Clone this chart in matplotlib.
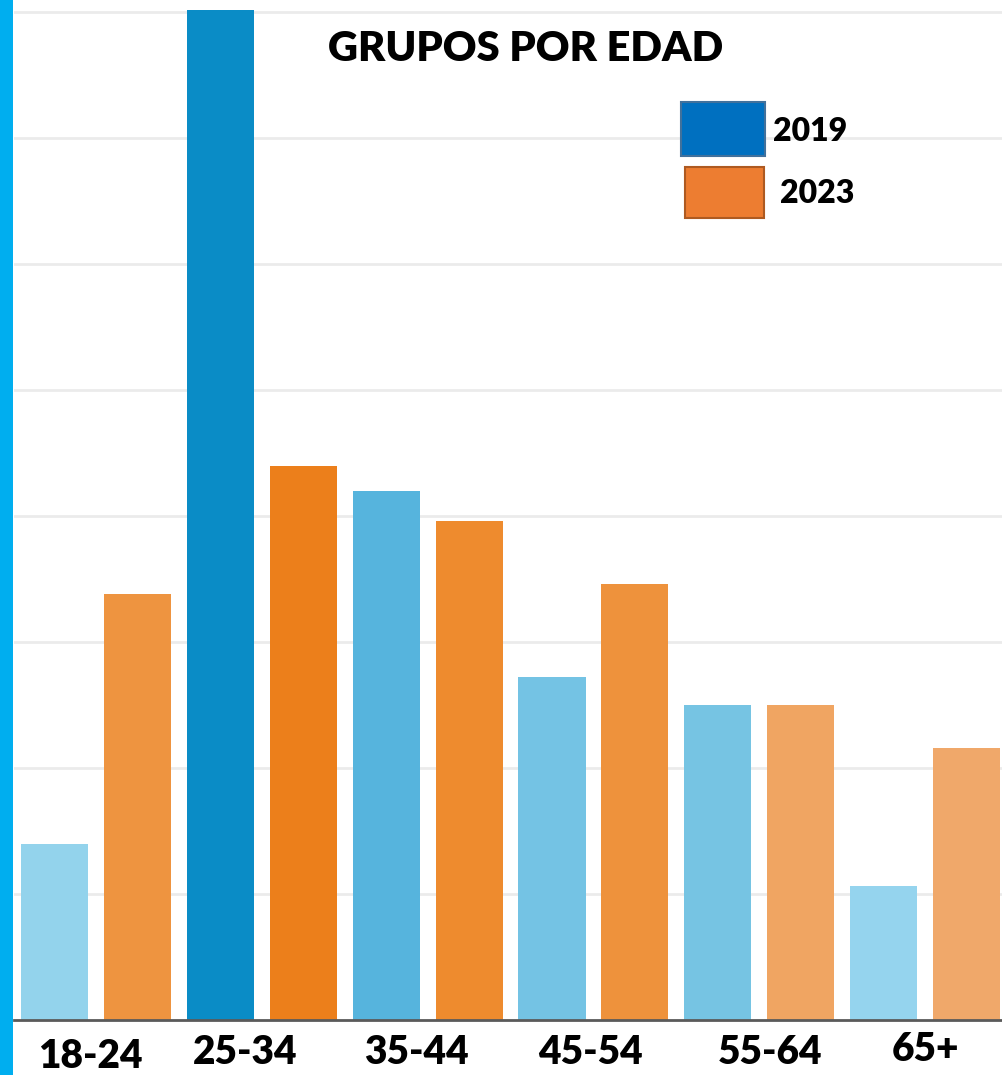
import matplotlib
matplotlib.use("Agg")
import matplotlib.pyplot as plt
from matplotlib.patches import Rectangle
import numpy as np

plt.rcParams["font.family"] = ["Lato", "DejaVu Sans"]

grupos = ["18-24", "25-34", "35-44", "45-54", "55-64", "65+"]
v2019 = [7.0, 40.1, 21.0, 13.6, 12.5, 5.3]
v2023 = [16.9, 22.0, 19.8, 17.3, 12.5, 10.8]
col2019 = ["#93D3EC", "#0A8CC6", "#56B4DD", "#74C3E4", "#76C4E3", "#95D4EE"]
col2023 = ["#EE9440", "#EC7F1B", "#EE8B2E", "#EE923C", "#F0A562", "#F0A86A"]

W, H = 1003, 1075
fig = plt.figure(figsize=(W / 100, H / 100), dpi=100)
ax = fig.add_axes([14 / W, 55 / H, (W - 14) / W, 1020 / H])

x = np.arange(len(grupos))
ax.bar(2 * x, v2019, width=0.81, color=col2019, zorder=2)
ax.bar(2 * x + 1, v2023, width=0.81, color=col2023, zorder=2)

ax.set_xlim(-0.489, 11.44)
ax.set_ylim(0, 40.48)
ax.set_yticks(np.arange(5, 41, 5))
ax.yaxis.grid(True, color="#EBEBEB", lw=2)
ax.set_axisbelow(True)
ax.tick_params(axis="y", left=False, labelleft=False)
ax.set_xticks([])
for s in ["top", "right", "left"]:
    ax.spines[s].set_visible(False)
ax.spines["bottom"].set_color("#5A5A5A")
ax.spines["bottom"].set_linewidth(2)

# etiquetas del eje x (ligeramente desplazadas como en el original)
desp = [-0.07, -0.2, -0.13, -0.04, 0.13, 0.0]
alto = [-0.036, -0.032, -0.032, -0.032, -0.032, -0.029]
for i, g in enumerate(grupos):
    ax.text(2 * i + 0.5 + desp[i], alto[i], g, transform=ax.get_xaxis_transform(),
            ha="center", va="center", fontsize=28, fontweight="heavy")

ax.text(0.517, 0.952, "GRUPOS POR EDAD", transform=ax.transAxes,
        ha="center", va="center", fontsize=30, fontweight="heavy")

# barra lateral
fig.add_artist(Rectangle((0, 0), 13 / W, 1, transform=fig.transFigure,
                         facecolor="#00AEEF", edgecolor="none"))

# leyenda manual
fig.add_artist(Rectangle((681 / W, 1 - 156 / H), 84 / W, 54 / H, transform=fig.transFigure,
                         facecolor="#0070C0", edgecolor="#41719C", lw=1.5))
fig.add_artist(Rectangle((685 / W, 1 - 218 / H), 79 / W, 51 / H, transform=fig.transFigure,
                         facecolor="#ED7D31", edgecolor="#AE5A21", lw=1.5))
fig.text(773 / W, 1 - 131 / H, "2019", fontsize=23, fontweight="heavy", va="center")
fig.text(780 / W, 1 - 193 / H, "2023", fontsize=23, fontweight="heavy", va="center")

fig.savefig("out.png", dpi=100)
